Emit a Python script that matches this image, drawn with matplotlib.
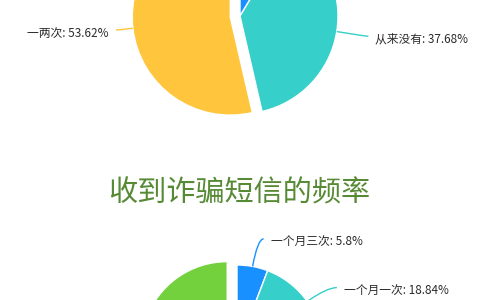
import matplotlib
matplotlib.use("Agg")
import matplotlib.pyplot as plt
import numpy as np
from matplotlib.path import Path
from matplotlib.patches import PathPatch

plt.rcParams['font.family'] = ['Noto Sans CJK SC', 'DejaVu Sans']

# 上一张饼图（只露出下半部分）
top_labels = ['多次', '从来没有', '一两次']
top_values = [8.70, 37.68, 53.62]
top_colors = ['#1890ff', '#36cfc9', '#ffc53d']
top_explode = [0, 0, 0.1]

# 收到诈骗短信的频率（只露出上沿）
bottom_labels = ['一个月三次', '一个月一次', '一周一次', '一个月两次']
bottom_values = [5.80, 18.84, 35.94, 39.42]
bottom_colors = ['#1890ff', '#36cfc9', '#ffc53d', '#73d13d']
bottom_explode = [0, 0, 0, 0.12]

title = '收到诈骗短信的频率'

W, H = 480, 300


def draw_pie(ax, values, labels, colors, explode, center, radius, leaders):
    # explode in ax.pie is in data units, so scale it by the radius
    wedges, _ = ax.pie(values, colors=colors,
                       explode=[e * radius for e in explode], center=center,
                       radius=radius, startangle=90, counterclock=False,
                       wedgeprops=dict(edgecolor='white', linewidth=1))
    for w, lab, val, col, (l1, l2) in zip(wedges, labels, values, colors, leaders):
        mid = np.deg2rad((w.theta1 + w.theta2) / 2)
        d = np.array([np.cos(mid), np.sin(mid)])
        c = np.array(w.center)
        edge = c + w.r * d
        elbow = c + (w.r + l1) * d
        side = 1 if d[0] >= 0 else -1
        end = elbow + np.array([side * l2, 0])
        path = Path([edge, elbow, end], [Path.MOVETO, Path.CURVE3, Path.CURVE3])
        ax.add_patch(PathPatch(path, fc='none', ec=col, lw=1, clip_on=False))
        ax.text(end[0] + side * 7, end[1] - 3, f'{lab}: {val:g}%',
                ha='left' if side > 0 else 'right', va='center',
                fontsize=8.5, color='#2b2b2b')


fig = plt.figure(figsize=(W / 100, H / 100), dpi=100)
ax = fig.add_axes([0, 0, 1, 1])

draw_pie(ax, top_values, top_labels, top_colors, top_explode,
         center=(240, H - 16), radius=98,
         leaders=[(20, 8), (30, 2), (16, 1)])

draw_pie(ax, bottom_values, bottom_labels, bottom_colors, bottom_explode,
         center=(237, H - 351), radius=86,
         leaders=[(28, 6), (24, 10), (60, 10), (4, 10)])

ax.text(239, H - 194, title, ha='center', va='center', fontsize=21,
        color='#578a35')

ax.set_xlim(0, W)
ax.set_ylim(0, H)
ax.set_aspect('equal')
ax.axis('off')

fig.savefig('out.png', dpi=100)
